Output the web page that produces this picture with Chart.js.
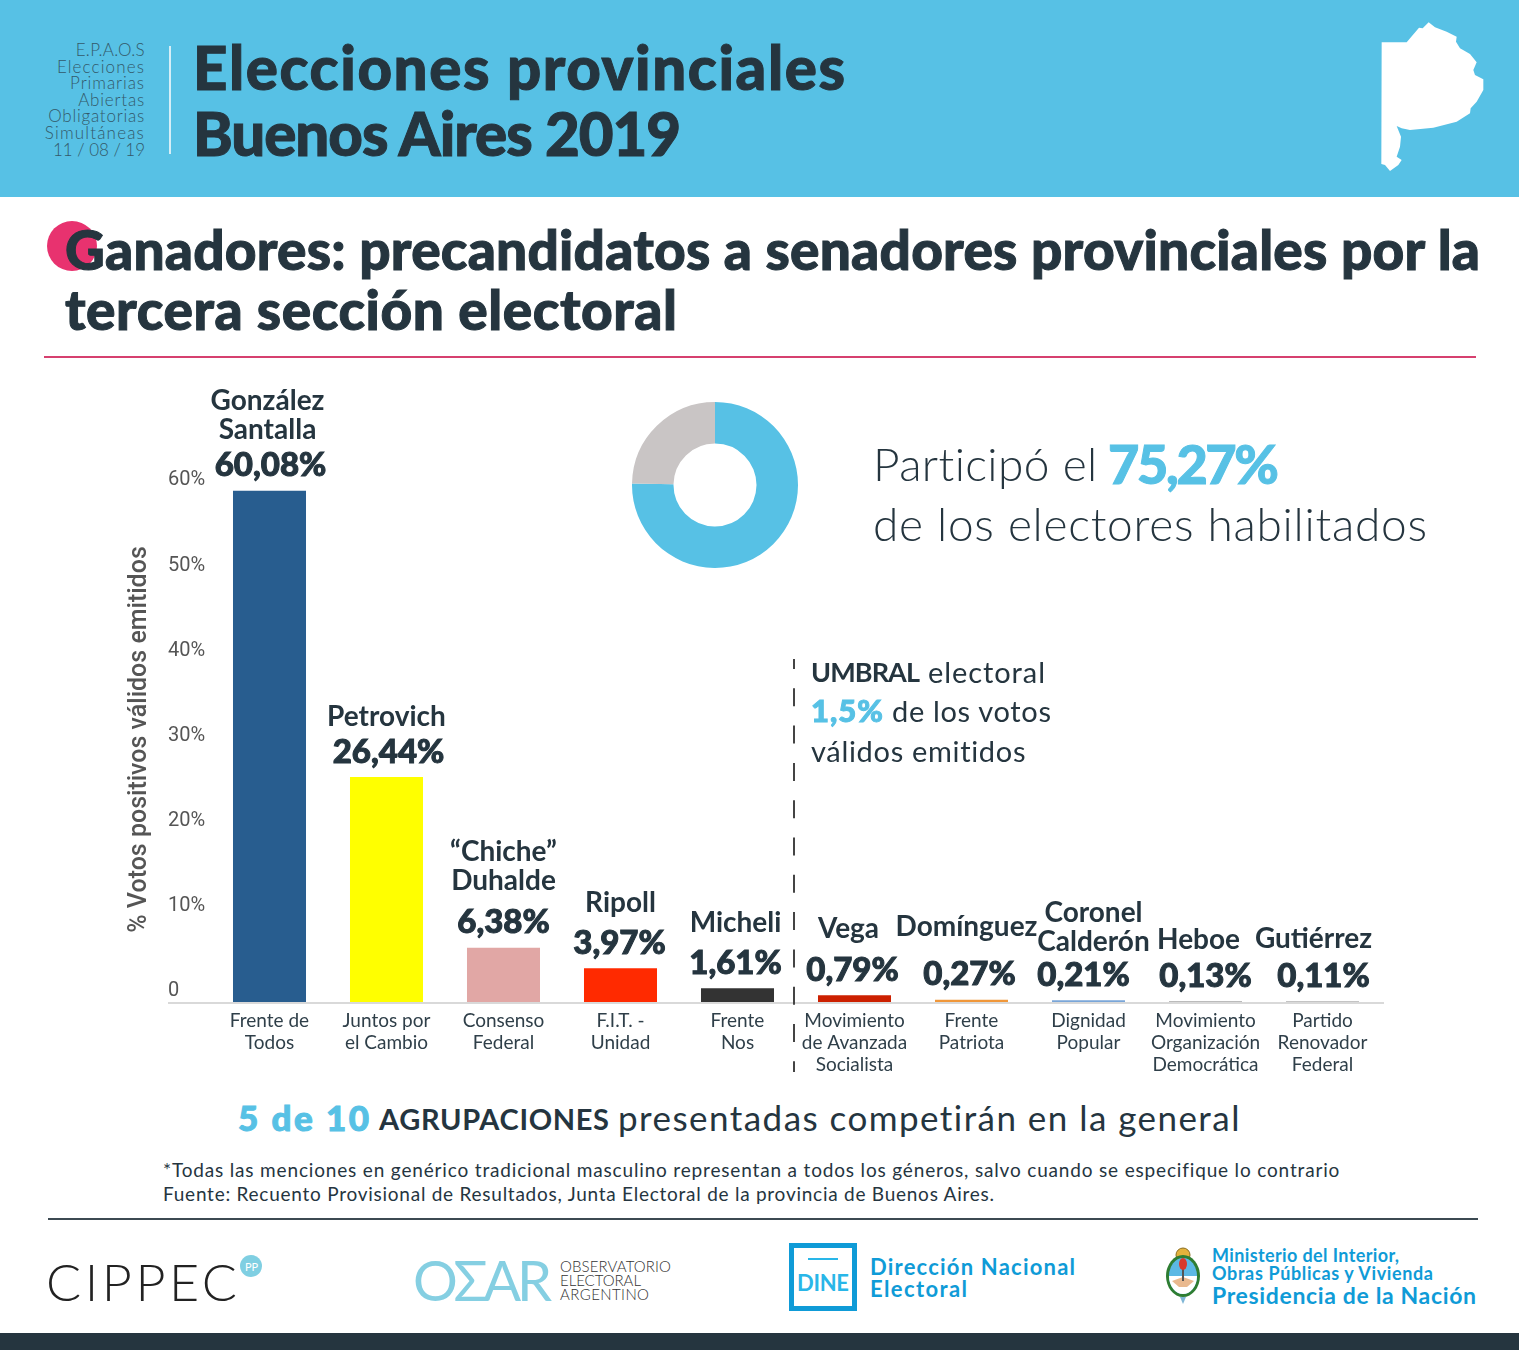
<!DOCTYPE html>
<html lang="es">
<head>
<meta charset="utf-8">
<title>Elecciones provinciales Buenos Aires 2019</title>
<script src="https://cdn.jsdelivr.net/npm/chart.js@4/dist/chart.umd.min.js"></script>
<style>
    html, body { margin: 0; padding: 0; background: #fff; }
    #page { position: relative; width: 1519px; height: 1350px; overflow: hidden; font-family: Lato, sans-serif; color: #25353f; }
    #page > * { position: absolute; }
    .t { white-space: nowrap; line-height: 1; transform: translateY(-50%); }
    .blue { color: #57c1e5; }
    .heavy { -webkit-text-stroke: 1px currentColor; }
    .side { right: 1374px; font-size: 17px; font-weight: 300; color: #33596a; }
    canvas { display: block; }
</style>
</head>
<body>
<div id="page">
    <div style="left:0;top:0;width:1519px;height:197px;background:#57c1e5"></div>
    <div style="left:169px;top:46px;width:2px;height:108px;background:#d5eef7"></div>
    <span class="t side fit" data-w="69" style="top:49px">E.P.A.O.S</span>
    <span class="t side fit" data-w="87" style="top:66px">Elecciones</span>
    <span class="t side fit" data-w="74" style="top:82px">Primarias</span>
    <span class="t side fit" data-w="66" style="top:99px">Abiertas</span>
    <span class="t side fit" data-w="96" style="top:115px">Obligatorias</span>
    <span class="t side fit" data-w="99" style="top:132px">Simultáneas</span>
    <span class="t side fit" data-w="92" style="top:149px">11 / 08 / 19</span>
    <span class="t heavy fit" data-w="652" style="left:193px;top:67px;font-size:60px;font-weight:900">Elecciones provinciales</span>
    <span class="t heavy fit" data-w="488" style="left:193px;top:133px;font-size:60px;font-weight:900">Buenos Aires 2019</span>
    <svg style="left:1300px;top:0" width="219" height="198" viewBox="0 0 657 594">
        <polygon fill="#fff" points="245,127 320,127 357,83 368,85 386,67 405,82 440,95 470,110 468,125 480,145 510,162 530,187 520,210 525,225 550,238 550,270 530,305 512,325 510,340 470,365 400,383 330,390 305,385 290,378 303,410 300,440 290,470 305,480 295,495 270,513 255,495 244,492"/>
    </svg>

    <div style="left:47px;top:221px;width:50px;height:50px;border-radius:50%;background:#e8326f"></div>
    <span class="t heavy fit" data-w="1415" style="left:65px;top:249px;font-size:55px;font-weight:900">Ganadores: precandidatos a senadores provinciales por la</span>
    <span class="t heavy fit" data-w="612" style="left:65px;top:309px;font-size:55px;font-weight:900">tercera sección electoral</span>
    <div style="left:44px;top:356px;width:1432px;height:2px;background:#d6406f"></div>

    <div style="left:100px;top:370px"><canvas id="barChart" width="1300" height="720"></canvas></div>
    <div style="left:632px;top:402px"><canvas id="turnoutChart" width="166" height="166"></canvas></div>

    <span class="t fit" data-w="225" style="left:873px;top:464px;font-size:46px;font-weight:300">Participó el</span>
    <span class="t blue heavy fit" data-w="171" style="left:1108px;top:464px;font-size:54px;font-weight:900">75,27%</span>
    <span class="t fit" data-w="554" style="left:873px;top:524px;font-size:46px;font-weight:300">de los electores habilitados</span>

    <span class="t fit" data-w="109" style="left:811px;top:671px;font-size:27px;font-weight:700">UMBRAL</span>
    <span class="t fit" data-w="117" style="left:928px;top:671px;font-size:29px;font-weight:400">electoral</span>
    <span class="t blue heavy fit" data-w="72" style="left:811px;top:710px;font-size:31px;font-weight:900">1,5%</span>
    <span class="t fit" data-w="159" style="left:892px;top:710px;font-size:29px;font-weight:400">de los votos</span>
    <span class="t fit" data-w="215" style="left:811px;top:750px;font-size:29px;font-weight:400">válidos emitidos</span>

    <span class="t blue heavy fit" data-w="131" style="left:238px;top:1117px;font-size:35px;font-weight:900">5 de 10</span>
    <span class="t fit" data-w="230" style="left:379px;top:1118px;font-size:29px;font-weight:700">AGRUPACIONES</span>
    <span class="t fit" data-w="622" style="left:618px;top:1117px;font-size:35px;font-weight:400">presentadas competirán en la general</span>

    <span class="t fit" data-w="1176" style="left:163px;top:1169px;font-size:19px;font-weight:400">*Todas las menciones en genérico tradicional masculino representan a todos los géneros, salvo cuando se especifique lo contrario</span>
    <span class="t fit" data-w="831" style="left:163px;top:1193px;font-size:19px;font-weight:400">Fuente: Recuento Provisional de Resultados, Junta Electoral de la provincia de Buenos Aires.</span>
    <div style="left:48px;top:1218px;width:1430px;height:2px;background:#3c4a52"></div>

    <span class="t fit" data-w="191" style="left:46px;top:1281px;font-size:52px;font-weight:300;color:#222">CIPPEC</span>
    <div style="left:240px;top:1255px;width:22px;height:22px;border-radius:50%;background:#7fcfe2"></div>
    <span class="t" style="left:245px;top:1266px;font-size:11px;color:#fff">PP</span>

    <span class="t fit" data-w="139" style="left:413px;top:1280px;font-size:56px;font-weight:400;color:#85cfe2">OΣAR</span>
    <span class="t fit" data-w="111" style="left:560px;top:1266px;font-size:15px;font-weight:300;color:#333">OBSERVATORIO</span>
    <span class="t fit" data-w="81" style="left:560px;top:1280px;font-size:15px;font-weight:300;color:#333">ELECTORAL</span>
    <span class="t fit" data-w="89" style="left:560px;top:1294px;font-size:15px;font-weight:300;color:#333">ARGENTINO</span>

    <div style="left:789px;top:1243px;width:58px;height:58px;border:5px solid #0f9bd7"></div>
    <div style="left:808px;top:1258px;width:30px;height:2px;background:#29b6e8"></div>
    <span class="t fit" data-w="52" style="left:797px;top:1283px;font-size:22px;font-weight:700;color:#29b6e8">DINE</span>
    <span class="t fit" data-w="205" style="left:870px;top:1267px;font-size:22px;font-weight:700;color:#0f9bd7">Dirección Nacional</span>
    <span class="t fit" data-w="97" style="left:870px;top:1289px;font-size:22px;font-weight:700;color:#0f9bd7">Electoral</span>

    <svg style="left:1163px;top:1247px" width="40" height="60" viewBox="0 0 40 60">
        <circle cx="20" cy="8" r="7" fill="#e3b23c" stroke="#8a6d1f"/>
        <ellipse cx="20" cy="29" rx="17" ry="21" fill="#2e7d32"/>
        <ellipse cx="20" cy="29" rx="14" ry="18" fill="#5cb8e4"/>
        <path d="M6 29 H34 A14 18 0 0 1 6 29 Z" fill="#fff"/>
        <path d="M9 34 L20 30 L31 34 L24 40 H16 Z" fill="#e9b98f"/>
        <rect x="19" y="16" width="2" height="18" fill="#555"/>
        <ellipse cx="20" cy="17" rx="4" ry="6" fill="#d9392b"/>
        <path d="M17 50 L20 57 L23 50 Z" fill="#7fb6d6"/>
    </svg>
    <span class="t fit" data-w="187" style="left:1212px;top:1255px;font-size:18px;font-weight:700;color:#0f9bd7">Ministerio del Interior,</span>
    <span class="t fit" data-w="221" style="left:1212px;top:1273px;font-size:18px;font-weight:700;color:#0f9bd7">Obras Públicas y Vivienda</span>
    <span class="t fit" data-w="264" style="left:1212px;top:1295px;font-size:23px;font-weight:700;color:#0f9bd7">Presidencia de la Nación</span>

    <div style="left:0;top:1333px;width:1519px;height:17px;background:#25353f"></div>
</div>

<script>
// ========= DATA ========= //
const parties = [
    ['Frente de', 'Todos'],
    ['Juntos por', 'el Cambio'],
    ['Consenso', 'Federal'],
    ['F.I.T. -', 'Unidad'],
    ['Frente', 'Nos'],
    ['Movimiento', 'de Avanzada', 'Socialista'],
    ['Frente', 'Patriota'],
    ['Dignidad', 'Popular'],
    ['Movimiento', 'Organización', 'Democrática'],
    ['Partido', 'Renovador', 'Federal']
];
const candidates = [
    ['González', 'Santalla'],
    ['Petrovich'],
    ['“Chiche”', 'Duhalde'],
    ['Ripoll'],
    ['Micheli'],
    ['Vega'],
    ['Domínguez'],
    ['Coronel', 'Calderón'],
    ['Heboe'],
    ['Gutiérrez']
];
const votes = [60.08, 26.44, 6.38, 3.97, 1.61, 0.79, 0.27, 0.21, 0.13, 0.11];
const barColors = ['#285d8f', '#ffff00', '#e1a7a5', '#ff2a00', '#333333', '#cc2000', '#f0973a', '#7aa6d8', '#bbbbbb', '#c4c4c4'];
const yTicks = [0, 10, 20, 30, 40, 50, 60];
const turnoutLabels = ['Participó', 'No participó'];
const turnout = [75.27, 24.73];
const turnoutColors = ['#57c1e5', '#c9c5c5'];

// hand placement of the labels over the bars
const pctShift = [1, 2, 0, -1, -2, -2, -2, -5, 0, 1];
const nameShift = [-2, 0, 0, 0, -2, -6, -5, 5, -7, -9];
const nameGap = [36, 35, 42, 40, 40, 41, 48, 33, 36, 37];

// fit the page texts to the widths measured on the original
document.querySelectorAll('.fit').forEach(function (el) {
    const gap = (Number(el.dataset.w) - el.getBoundingClientRect().width) / (el.textContent.length - 1);
    el.style.letterSpacing = gap.toFixed(3) + 'px';
});

const inkColor = '#25353f';

const barOverlay = {
    id: 'barOverlay',
    beforeDatasetsDraw(chart) {
        // base line, under the very short bars
        const ctx = chart.ctx;
        ctx.save();
        ctx.strokeStyle = '#d9d9d9';
        ctx.lineWidth = 2;
        ctx.beginPath();
        ctx.moveTo(68, chart.chartArea.bottom + 1);
        ctx.lineTo(1284, chart.chartArea.bottom + 1);
        ctx.stroke();
        ctx.restore();
    },
    afterDraw(chart) {
        const ctx = chart.ctx;
        const x = chart.scales.x;
        const bars = chart.getDatasetMeta(0).data;

        // threshold line between the 5th and 6th party
        const lineX = Math.round(x.getPixelForValue(4.5) - 2.5);
        ctx.save();
        ctx.strokeStyle = '#444';
        ctx.lineWidth = 2;
        ctx.setLineDash([18, 19.3]);
        ctx.lineDashOffset = 8;
        ctx.beginPath();
        ctx.moveTo(lineX, 289);
        ctx.lineTo(lineX, 702);
        ctx.stroke();
        ctx.restore();

        // candidate and percentage over each bar
        ctx.save();
        ctx.fillStyle = inkColor;
        ctx.strokeStyle = inkColor;
        ctx.lineWidth = 1;
        ctx.textAlign = 'center';
        ctx.textBaseline = 'middle';
        bars.forEach(function (bar, i) {
            const pctY = bar.y - 25;
            const pctText = votes[i].toFixed(2).replace('.', ',') + '%';
            ctx.font = '900 33px Lato';
            ctx.fillText(pctText, bar.x + pctShift[i], pctY);
            ctx.strokeText(pctText, bar.x + pctShift[i], pctY);
            ctx.font = '700 28px Lato';
            const lines = candidates[i];
            lines.forEach(function (line, k) {
                const y = pctY - nameGap[i] - (lines.length - 1 - k) * 29;
                ctx.fillText(line, bar.x + nameShift[i], y);
            });
        });
        ctx.restore();
    }
};

new Chart(document.getElementById('barChart').getContext('2d'), {
    type: 'bar',
    data: {
        labels: parties,
        datasets: [{
            label: '% Votos positivos válidos emitidos',
            data: votes,
            backgroundColor: barColors,
            borderWidth: 0,
            barPercentage: 1,
            categoryPercentage: 0.624
        }]
    },
    options: {
        responsive: false,
        animation: false,
        layout: { padding: { left: 68, right: 19, top: 107, bottom: 0 } },
        plugins: { legend: { display: false }, tooltip: { enabled: false } },
        scales: {
            x: {
                grid: { display: false },
                border: { display: false },
                afterFit(scale) { scale.height = 88; },
                ticks: {
                    autoSkip: false,
                    maxRotation: 0,
                    padding: 0,
                    color: '#2f3f49',
                    font: { family: 'Lato', size: 19, lineHeight: 22 / 19 }
                }
            },
            y: {
                min: 0,
                max: 61.7,
                grid: { display: false },
                border: { display: false },
                afterFit(scale) { scale.width = 43; },
                afterBuildTicks(scale) { scale.ticks = yTicks.map(v => ({ value: v })); },
                title: {
                    display: true,
                    text: '% Votos positivos válidos emitidos',
                    color: '#555',
                    font: { family: 'Roboto', size: 25, weight: '500' },
                    padding: { top: -43 }
                },
                ticks: {
                    padding: 6,
                    crossAlign: 'far',
                    labelOffset: -11,
                    color: '#555',
                    font: { family: 'Roboto', size: 20 },
                    callback: value => value === 0 ? '0' : value + '%'
                }
            }
        }
    },
    plugins: [barOverlay]
});

new Chart(document.getElementById('turnoutChart').getContext('2d'), {
    type: 'doughnut',
    data: {
        labels: turnoutLabels,
        datasets: [{ data: turnout, backgroundColor: turnoutColors, borderWidth: 0 }]
    },
    options: {
        responsive: false,
        animation: false,
        cutout: '50%',
        plugins: { legend: { display: false }, tooltip: { enabled: false } }
    }
});
</script>
</body>
</html>
